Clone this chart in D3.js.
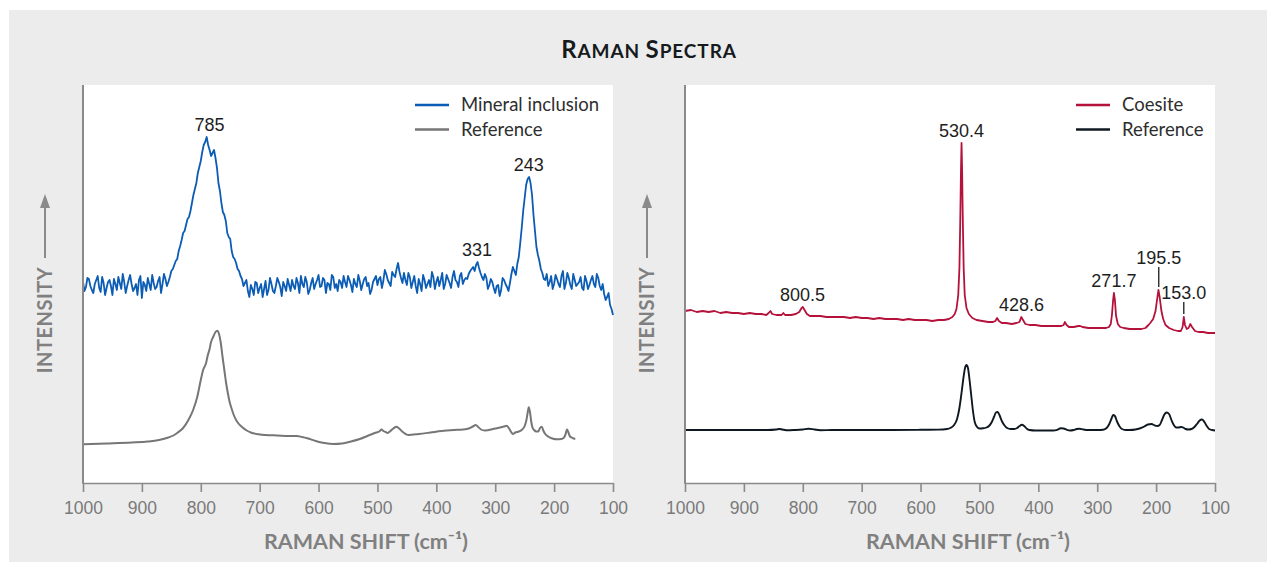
<!DOCTYPE html>
<html><head><meta charset="utf-8">
<script src="https://cdn.jsdelivr.net/npm/d3@7"></script>
<style>body{margin:0;background:#fff;} svg{display:block;}</style>
</head><body>
<svg id="chart" width="1276" height="572"></svg>
<script>
// ---------------- DATA ----------------
const tickValues = [1000, 900, 800, 700, 600, 500, 400, 300, 200, 100];

// Left panel: mineral inclusion (noisy), read every 5 cm-1 from 1000 to 100
const inclusionWave = d3.range(1000, 99, -5);
const inclusionValues = [
  201,196,204,193,199,207,191,200,195,203, // 1000-955
  188,199,206,194,201,197,208,192,199,203, // 950-905
  185,198,205,193,200,196,206,199,204,201, // 900-855
  212,218,224,237,250,258,266,280,294,310, // 850-805
  322,338,346,333,330,325,300,280,268,250, // 800-755
  244,226,220,212,204,200,192,198,188,200, // 750-705
  195,186,202,193,199,190,205,196,201,192, // 700-655
  198,203,194,200,207,196,201,193,205,199, // 650-605
  208,197,203,200,193,206,199,203,195,201, // 600-555
  207,198,204,196,202,199,206,200,193,204, // 550-505
  198,206,202,209,200,211,206,220,205,210, // 500-455
  198,206,201,197,204,192,203,199,196,206, // 450-405
  201,197,210,199,204,195,212,201,207,199, // 400-355
  205,209,214,212,221,210,203,205,198,201, // 350-305
  190,198,193,203,196,200,216,208,226,255, // 300-255
  285,304,300,268,236,222,210,203,197,207, // 250-205
  199,204,196,212,200,205,194,203,199,206, // 200-155
  193,202,198,207,196,205,193,189,186,178, // 150-105
  168                                      // 100
];
// readings at the intermediate positions 997.5 ... 102.5
const inclusionMidWave = d3.range(997.5, 100, -5);
const inclusionMidValues = [
  192,205,197,190,203,195,206,188,201,197, // 997.5-952.5
  204,193,200,209,190,203,199,195,188,207, // 947.5-902.5
  201,192,199,208,194,202,190,209,197,206, // 897.5-852.5
  214,222,232,243,252,264,272,288,300,316, // 847.5-802.5
  331,341,338,327,333,315,292,271,262,246, // 797.5-752.5
  232,224,214,207,197,203,186,194,201,190, // 747.5-702.5
  199,194,188,205,192,197,201,187,197,204, // 697.5-652.5
  192,197,205,190,199,206,189,200,194,203, // 647.5-602.5
  196,205,190,199,208,195,192,201,207,196, // 597.5-552.5
  203,191,199,208,193,204,197,189,201,207, // 547.5-502.5
  204,195,213,203,197,208,214,211,200,203, // 497.5-452.5
  210,195,207,190,199,208,195,203,211,194, // 447.5-402.5
  206,203,194,208,200,206,203,196,210,203, // 397.5-352.5
  204,212,216,218,215,206,209,194,204,195, // 347.5-302.5
  197,187,205,199,192,209,212,219,240,272, // 297.5-252.5
  298,306,288,252,228,214,204,209,201,194, // 247.5-202.5
  208,199,207,194,210,198,209,197,201,195, // 197.5-152.5
  207,194,203,199,209,197,199,183,190,174  // 147.5-102.5
];

// Left panel: reference (smooth)
const leftRefWave = [999,960,917,890,871,855,845,839,830,821,813,806,800,796,791,788,785,783,779,775,772,769,766,763,760,757,754,751,748,744,740,736,730,722,715,705,690,670,650,637,628,619,605,590,575,560,545,530,515,502,497,493,490,486,483,479,473,468,464,458,452,447,430,410,391,370,355,345,338,333,329,324,318,300,285,281,277,273,270,266,260,255,250,247,245,243,241,239,237,234,230,227,224,221,218,215,210,203,195,188,184,181,178,176,173,170,167,164];
const leftRefValues = [38.7,39.5,40.5,41.5,43,45.5,48,50.5,55,63,73,86,103,113,120,128,134,140,146,151,152.3,149,140,126,113,100,89.7,81,75,68,63,59.5,56,52.5,50.5,49,48,47.5,47,47,46,44.7,42,40,39,39.5,41.5,44,47.5,50.5,51.5,53.5,52,51,50,51.5,54.5,56.3,55,51.5,49,48,49,50.5,52,53,53.5,54.5,56.5,58,56,53.5,52.5,54.5,56.5,57.2,55,51,49,50.5,51.5,53,57,63,70,75.7,71,62,56,53,51.5,51.5,55,56.3,52,49,46.5,44.5,43.7,44,45,48,53.5,51,46.5,45.5,44.5,44.3];

// Right panel: coesite
const coesiteWave = [1000,990,980,970,960,950,940,930,920,910,900,890,880,870,862,858,855,852,845,836,833,830,820,812,806,802,800,797,793,788,780,770,760,750,740,730,720,710,700,690,680,670,660,650,640,630,620,610,600,590,580,570,560,552,546,542,539,536,534,532.5,531.3,530.4,529.5,528.3,526.8,525,522,518,512,505,495,485,477,473,470,467,462,455,445,437,432,429,426,422,415,405,395,385,375,368,361,357,355,352,348,340,332,329,325,315,305,295,285,280,277,275,273,271.7,270,268,265,261,255,245,235,225,218,213,210,205,201,198,196,194,191,188,184,178,170,163,158,155,153,151,148,145,142,139,134,128,120,112,105,100];
const coesiteValues = [172,173,171,172,171,172,170,171,170,170,169,170,169,169,168,170,172,169,168,168,170,168,168,169,171,175,176,173,169,167,167,167,166,166,166,166,165,166,165,165,164,165,164,164,164,163,164,163,163,163,162,163,163,164,166,169,174,188,215,265,315,340,315,265,215,188,175,169,165,163,162,161,161,162,165,162,160,160,159,160,161,166,163,159,158,158,157,157,157,157,157,158,161,158,156,156,157,157,156,155,155,155,155,156,159,168,183,190,183,167,159,156,155,154,154,154,155,158,160,164,172,185,193,186,172,164,158,155,153,152,152,156,166,158,154,155,159,156,152,151,151,150,150,150];

// Right panel: reference
const rightRefWave = [1000,950,900,860,845,840,835,828,815,800,790,780,770,750,700,650,600,570,555,548,543,538,534,530,527,524.5,522,519.5,517,514,511,508,504,500,494,488,483,479,475,472,469,466,462,458,453,447,441,436,432,428,424,420,415,405,390,375,368,362,357,352,346,340,335,330,324,315,300,290,284,280,276,273,270,266,262,258,252,245,235,228,220,214,208,202,198,194,190,186,182,178,174,170,166,162,158,154,150,145,140,135,130,126,122,118,114,110,105,100];
const rightRefValues = [53,53,53,53,53.5,54,53.5,52.8,53,53.5,54.3,53.5,52.8,53,53,53,53.2,53.4,54,55.5,58,64,75,92,106,115,118,115,104,88,72,61,56,54.5,54.7,55.5,57.5,61,66.5,70.5,71,68,62,58,55,54,54,55,57,58.3,57,54.5,53,52.5,52.5,52.5,53.2,54.7,54.5,53.3,52.5,53,54,54.3,53.6,53,53,53.3,55,58.5,64,68,67,61,56.5,54,53,53,53.5,54.5,56.5,58.5,59,57.5,57,58,63,68.5,70.5,69,63,58,55.5,55.5,56,55.5,54,53.5,54,56,59.5,62.5,63.5,61,57,54,53,52.5];

// Legends and peak labels
const leftLegend = ["Mineral inclusion", "Reference"];
const rightLegend = ["Coesite", "Reference"];
const leftPeakLabels = ["785", "331", "243"];
const leftPeakWaves = [785, 331, 243];
const rightPeakLabels = ["800.5", "530.4", "428.6", "271.7", "195.5", "153.0"];
const rightPeakWaves = [800.5, 530.4, 428.6, 271.7, 195.5, 153.0];
const titleText = ["R", "AMAN ", "S", "PECTRA"];
const xTitle = "RAMAN SHIFT (cm\u207B\u00B9)";
const yTitle = "INTENSITY";

// ---------------- LAYOUT ----------------
const W = 1276, H = 572;
const plotTop = 85, plotBottom = 483;

const inclusionPts = inclusionWave.map((w, i) => [w, inclusionValues[i]])
  .concat(inclusionMidWave.map((w, i) => [w, inclusionMidValues[i]]))
  .sort((a, b) => b[0] - a[0]);

const panels = [
  {x0: 83, x1: 613, series: [
     {pts: inclusionPts, color: "#0b5cb5", curve: d3.curveLinear, width: 1.8},
     {pts: leftRefWave.map((w, i) => [w, leftRefValues[i]]), color: "#767676", curve: d3.curveMonotoneX, width: 2}],
   legend: leftLegend, legendX: 415, labels: leftPeakLabels, labelWaves: leftPeakWaves, leaders: {}},
  {x0: 685, x1: 1215, series: [
     {pts: coesiteWave.map((w, i) => [w, coesiteValues[i]]), color: "#b5123b", curve: d3.curveLinear, width: 1.8},
     {pts: rightRefWave.map((w, i) => [w, rightRefValues[i]]), color: "#0f1820", curve: d3.curveMonotoneX, width: 1.9}],
   legend: rightLegend, legendX: 1076, labels: rightPeakLabels, labelWaves: rightPeakWaves, leaders: {"195.5": 20, "153.0": 12}}
];

const svg = d3.select("#chart");
svg.append("rect").attr("x", 0).attr("y", 0).attr("width", W).attr("height", H).attr("fill", "#fff");
svg.append("rect").attr("x", 9).attr("y", 10).attr("width", 1258).attr("height", 552).attr("fill", "#ececec");

// Title
const t = svg.append("text").attr("x", 649).attr("y", 58).attr("text-anchor", "middle")
  .attr("font-family", "Lato, 'Open Sans', sans-serif").attr("font-weight", 700).attr("fill", "#161a1d")
  .attr("letter-spacing", 0.9);
titleText.forEach((s, i) => t.append("tspan").attr("font-size", i % 2 === 0 ? 24 : 19).text(s));

const y = d3.scaleLinear().domain([0, 398]).range([plotBottom, plotTop]);

panels.forEach(p => {
  const x = d3.scaleLinear().domain([1000, 100]).range([p.x0, p.x1]);
  const g = svg.append("g");
  g.append("rect").attr("x", p.x0).attr("y", plotTop).attr("width", p.x1 - p.x0).attr("height", plotBottom - plotTop).attr("fill", "#fff");

  // series
  p.series.slice().reverse().forEach(s => {
    g.append("path").datum(s.pts)
      .attr("d", d3.line().x(d => x(d[0])).y(d => y(d[1])).curve(s.curve))
      .attr("fill", "none").attr("stroke", s.color).attr("stroke-width", s.width)
      .attr("stroke-linejoin", "round");
  });

  // axes
  const ax = g.append("g").attr("transform", `translate(0,${plotBottom})`)
    .call(d3.axisBottom(x).tickValues(tickValues).tickSize(9).tickSizeOuter(0).tickPadding(10).tickFormat(d3.format("d")));
  ax.select(".domain").attr("stroke", "#8a8a8a").attr("stroke-width", 1.6);
  ax.selectAll(".tick line").attr("stroke", "#8a8a8a").attr("stroke-width", 1.6);
  ax.selectAll(".tick text").attr("fill", "#7a7a7a").attr("font-size", 17.5)
    .attr("font-family", "'Liberation Sans', Arial, sans-serif");
  g.append("line").attr("x1", p.x0).attr("x2", p.x0).attr("y1", plotTop).attr("y2", plotBottom + 0.8)
    .attr("stroke", "#8a8a8a").attr("stroke-width", 2);

  // x title (slightly right of the plot centre, as in the original)
  g.append("text").attr("x", (p.x0 + p.x1) / 2 + 18).attr("y", 549).attr("text-anchor", "middle")
    .attr("font-family", "Lato, sans-serif").attr("font-weight", 700).attr("font-size", 21.5)
    .attr("fill", "#808080").text(xTitle);

  // y title with arrow
  const ax0 = p.x0 - 38;
  g.append("text").attr("transform", `translate(${ax0},320) rotate(-90)`).attr("text-anchor", "middle")
    .attr("dy", "0.36em").attr("font-family", "Lato, sans-serif").attr("font-weight", 700).attr("font-size", 20)
    .attr("letter-spacing", 0.5).attr("fill", "#808080").text(yTitle);
  g.append("line").attr("x1", ax0).attr("x2", ax0).attr("y1", 258).attr("y2", 204)
    .attr("stroke", "#8a8a8a").attr("stroke-width", 2);
  g.append("path").attr("d", `M${ax0},194 L${ax0 - 5},208 L${ax0 + 5},208 Z`).attr("fill", "#8a8a8a");

  // legend
  p.legend.forEach((lab, i) => {
    const ly = 105 + i * 24.5;
    g.append("line").attr("x1", p.legendX).attr("x2", p.legendX + 34).attr("y1", ly).attr("y2", ly)
      .attr("stroke", p.series[i].color).attr("stroke-width", 2.5);
    g.append("text").attr("x", p.legendX + 46).attr("y", ly).attr("dy", "0.35em")
      .attr("font-family", "Lato, sans-serif").attr("font-size", 18.5).attr("fill", "#2e2e2e").text(lab);
  });

  // peak labels
  const main = p.series[0];
  p.labels.forEach((lab, i) => {
    const w = p.labelWaves[i];
    let peak = -Infinity;
    main.pts.forEach(d => { if (Math.abs(d[0] - w) <= 8) peak = Math.max(peak, d[1]); });
    let py = y(peak) - 3;
    const leader = p.leaders[lab];
    if (leader) {
      g.append("line").attr("x1", x(w)).attr("x2", x(w)).attr("y1", py).attr("y2", py - leader)
        .attr("stroke", "#1a1a1a").attr("stroke-width", 1.3);
      py -= leader;
    }
    g.append("text").attr("x", x(w)).attr("y", py - 3).attr("text-anchor", "middle")
      .attr("font-family", "'Liberation Sans', Arial, sans-serif").attr("font-size", 18)
      .attr("fill", "#1e1e1e").text(lab);
  });
});
</script>
</body></html>
